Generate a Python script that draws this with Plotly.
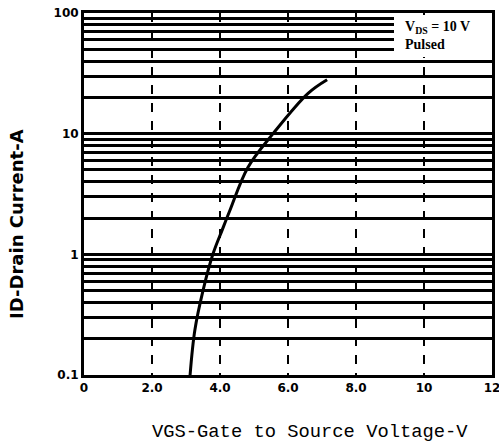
import plotly.graph_objects as go

# Transfer characteristic
vgs = [3.12, 3.26, 3.5, 3.79, 4.06, 4.29, 4.82, 5.56, 6.59, 7.15]
id_a = [0.1, 0.235, 0.5, 1.0, 1.58, 2.31, 5.25, 10.0, 21.6, 28.0]

x_tickvals = [0, 2, 4, 6, 8, 10, 12]
x_ticktext = ["0", "2.0", "4.0", "6.0", "8.0", "10", "12"]
y_tickvals = [0.1, 1, 10, 100]
y_ticktext = ["0.1", "1", "10", "100"]
y_minor = [m * d for d in (0.1, 1, 10) for m in range(2, 10)]

fig = go.Figure()
fig.add_trace(go.Scatter(x=vgs, y=id_a, mode="lines",
                         line=dict(color="black", width=3, shape="spline"),
                         showlegend=False, hoverinfo="skip"))

tickfont = dict(family="DejaVu Sans", size=12, color="black", weight="bold")

fig.update_layout(
    width=499, height=447,
    margin=dict(l=84, r=7, t=13, b=72),
    paper_bgcolor="white", plot_bgcolor="white",
    xaxis=dict(range=[0, 12], tickvals=x_tickvals, ticktext=x_ticktext,
               showgrid=True, gridcolor="black", gridwidth=2, griddash="dash",
               showline=True, linecolor="black", linewidth=3, mirror=True,
               ticks="", tickfont=tickfont, zeroline=False, automargin=False,
               ticklabeloverflow="allow"),
    yaxis=dict(type="log", range=[-1, 2], tickvals=y_tickvals, ticktext=y_ticktext,
               showgrid=True, gridcolor="black", gridwidth=3,
               minor=dict(tickvals=y_minor, showgrid=True, gridcolor="black", gridwidth=2.5),
               showline=True, linecolor="black", linewidth=3, mirror=True,
               ticks="", tickfont=tickfont, zeroline=False, automargin=False,
               ticklabeloverflow="allow"),
    annotations=[
        # axis titles
        dict(xref="paper", yref="paper", x=0.554, y=-0.157, xanchor="center", yanchor="middle",
             text="VGS-Gate to Source Voltage-V", showarrow=False,
             font=dict(family="Liberation Mono", size=18.8, color="black")),
        dict(xref="paper", yref="paper", x=-0.167, y=0.417, xanchor="center", yanchor="middle",
             text="ID-Drain Current-A", showarrow=False, textangle=-90,
             font=dict(family="DejaVu Sans", size=18, color="black", weight="bold")),
        # white legend box
        dict(xref="paper", yref="paper", x=0.999, y=0.995, xanchor="right", yanchor="top",
             text=" ", showarrow=False, bgcolor="white", width=96, height=40,
             borderpad=1, borderwidth=0),
        dict(xref="paper", yref="paper", x=0.782, y=0.99, xanchor="left", yanchor="top",
             text="V<sub>DS</sub> = 10 V<br>Pulsed", align="left", showarrow=False,
             font=dict(family="Liberation Serif", size=14, color="black", weight="bold")),
    ],
)

fig.write_html("out.html", config={"displayModeBar": False},
               post_script="document.body.style.margin='0';")
